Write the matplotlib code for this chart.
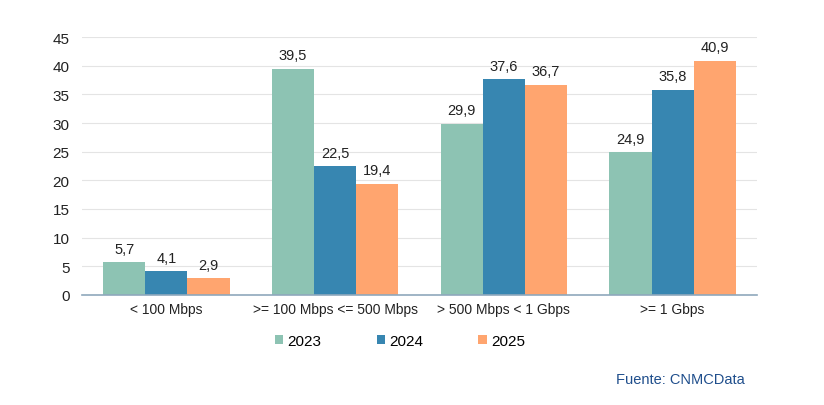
import matplotlib
matplotlib.use("Agg")
import matplotlib.pyplot as plt
import numpy as np

plt.rcParams['font.family'] = ['Liberation Sans', 'DejaVu Sans']

categories = ["< 100 Mbps", ">= 100 Mbps <= 500 Mbps", "> 500 Mbps < 1 Gbps", ">= 1 Gbps"]
years = ["2023", "2024", "2025"]
v2023 = [5.7, 39.5, 29.9, 24.9]
v2024 = [4.1, 22.5, 37.6, 35.8]
v2025 = [2.9, 19.4, 36.7, 40.9]
series = [v2023, v2024, v2025]
colors = ["#8DC3B3", "#3786B1", "#FFA56F"]

fig = plt.figure(figsize=(8.24, 4.06), dpi=100)
ax = fig.add_axes([82/824, 1-296/406, 675/824, 258/406])

x = np.arange(len(categories))
w = 0.25
for i, (vals, c, yr) in enumerate(zip(series, colors, years)):
    bars = ax.bar(x + (i-1)*w, vals, width=w, color=c, label=yr, zorder=2)
    for b, v in zip(bars, vals):
        ax.text(b.get_x()+b.get_width()/2, v+1.1, f"{v:.1f}".replace('.', ','),
                ha='center', va='bottom', fontsize=10.5, color='#222222')

ax.set_xlim(-0.5, 3.5)
ax.set_ylim(0, 45)
ax.set_yticks(range(0, 46, 5))
ax.yaxis.grid(True, color='#E4E4E4', linewidth=0.8, zorder=0)
ax.set_axisbelow(True)
for s in ['top', 'right', 'left']:
    ax.spines[s].set_visible(False)
ax.spines['bottom'].set_color('#8FA8BC')
ax.spines['bottom'].set_linewidth(1.2)
ax.tick_params(axis='y', length=0, labelsize=11, colors='#222222', pad=9)
ax.tick_params(axis='x', length=0, labelsize=10, colors='#222222', pad=5)
ax.set_xticks(x)
ax.set_xticklabels(categories)

leg = fig.legend(loc='center', bbox_to_anchor=(400/824, 1-342/406), ncol=3, frameon=False,
                 fontsize=11, handlelength=0.55, handleheight=0.55, columnspacing=3.6,
                 handletextpad=0.3)

fig.text(745/824, 1-380/406, "Fuente: CNMCData", ha='right', va='center', fontsize=10.5,
         color='#1F4E8C')

fig.savefig("out.png", dpi=100)
